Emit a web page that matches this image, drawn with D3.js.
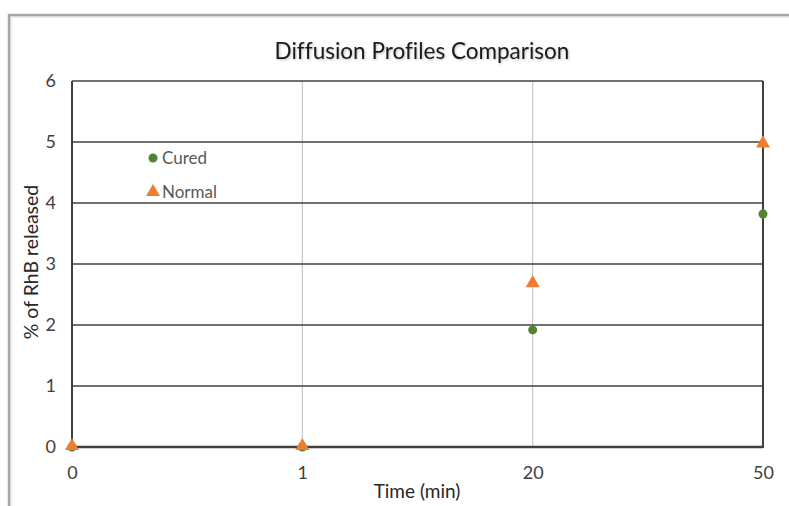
<!DOCTYPE html>
<html>
<head>
<meta charset="utf-8">
<script src="https://cdn.jsdelivr.net/npm/d3@7"></script>
<style>
  html, body { margin: 0; padding: 0; background: #fff; }
  svg { display: block; font-family: Lato, "Open Sans", sans-serif; font-variant-ligatures: none; }
</style>
</head>
<body>
<svg id="chart" width="789" height="506"></svg>
<script>
// Sampling times (min), shown as evenly spaced categories
const times = ["0", "1", "20", "50"];
// % of RhB released
const cured = [0, 0, 1.92, 3.82];
const normal = [0, 0, 2.67, 4.96];
const yTicks = [0, 1, 2, 3, 4, 5, 6];
const seriesNames = ["Cured", "Normal"];

const svg = d3.select("#chart");
const W = 789, H = 506;
const plot = { left: 72, right: 763, top: 81, bottom: 447 };

// Frame around the chart area
svg.append("path")
  .attr("d", `M9.5,${H} V15.5 H${W}`)
  .attr("fill", "none")
  .attr("stroke", "#d9d9d9")
  .attr("stroke-width", 4);
svg.append("path")
  .attr("d", `M9,${H} V15 H${W}`)
  .attr("fill", "none")
  .attr("stroke", "#a6a6a6")
  .attr("stroke-width", 2);

const x = d3.scalePoint().domain(times).range([plot.left, plot.right]);
const y = d3.scaleLinear().domain([0, 6]).range([plot.bottom, plot.top]);

// Vertical gridlines
svg.append("g")
  .selectAll("line")
  .data(times.slice(1, -1))
  .join("line")
  .attr("x1", d => x(d)).attr("x2", d => x(d))
  .attr("y1", plot.top).attr("y2", plot.bottom)
  .attr("stroke", "#bfbfbf").attr("stroke-width", 1);

// Horizontal gridlines
svg.append("g")
  .selectAll("line")
  .data(yTicks)
  .join("line")
  .attr("x1", plot.left).attr("x2", plot.right)
  .attr("y1", d => y(d)).attr("y2", d => y(d))
  .attr("stroke", "#404040").attr("stroke-width", d => d === 0 ? 2.5 : 1.5);

// Plot border sides
svg.append("line")
  .attr("x1", plot.left).attr("x2", plot.left)
  .attr("y1", plot.top).attr("y2", plot.bottom)
  .attr("stroke", "#404040").attr("stroke-width", 2);
svg.append("line")
  .attr("x1", plot.right).attr("x2", plot.right)
  .attr("y1", plot.top).attr("y2", plot.bottom + 1)
  .attr("stroke", "#404040").attr("stroke-width", 2);

// Tick labels via d3 axes
const yAxis = d3.axisLeft(y).tickValues(yTicks).tickSize(0).tickPadding(0).tickFormat(d3.format("d"));
svg.append("g")
  .attr("transform", `translate(${plot.left - 16},0)`)
  .call(yAxis)
  .call(g => g.select(".domain").remove())
  .call(g => g.selectAll("text")
    .attr("font-family", "Lato, 'Open Sans', sans-serif")
    .attr("font-size", 18).attr("fill", "#404040"));

const xAxis = d3.axisBottom(x).tickSize(0).tickPadding(0);
svg.append("g")
  .attr("transform", `translate(0,${plot.bottom + 19})`)
  .call(xAxis)
  .call(g => g.select(".domain").remove())
  .call(g => g.selectAll("text")
    .attr("font-family", "Lato, 'Open Sans', sans-serif")
    .attr("font-size", 18).attr("fill", "#404040"));

// Title and axis titles
svg.append("text")
  .attr("x", 422).attr("y", 59)
  .attr("text-anchor", "middle")
  .attr("font-size", 22.5).attr("fill", "#1a1a1a")
  .style("filter", "drop-shadow(1px 1px 1px rgba(0,0,0,0.25))")
  .text("Diffusion Profiles Comparison");

svg.append("text")
  .attr("x", 417).attr("y", 498)
  .attr("text-anchor", "middle")
  .attr("font-size", 19).attr("fill", "#262626")
  .text("Time (min)");

svg.append("text")
  .attr("transform", `translate(38,262) rotate(-90)`)
  .attr("text-anchor", "middle")
  .attr("font-size", 19.5).attr("fill", "#262626")
  .text("% of RhB released");

const green = "#548235", orange = "#ed7d31";
const tri = d3.symbol().type(d3.symbolTriangle).size(85);

// Cured series (circles)
svg.append("g")
  .selectAll("circle")
  .data(cured)
  .join("circle")
  .attr("cx", (d, i) => x(times[i]))
  .attr("cy", d => y(d))
  .attr("r", 4.5)
  .attr("fill", green);

// Normal series (triangles)
svg.append("g")
  .selectAll("path")
  .data(normal)
  .join("path")
  .attr("d", tri)
  .attr("transform", (d, i) => `translate(${x(times[i])},${y(d) - 1})`)
  .attr("fill", orange);

// Legend
const legend = svg.append("g").attr("font-size", 17).attr("fill", "#595959");
legend.append("circle").attr("cx", 153).attr("cy", 158).attr("r", 4.5).attr("fill", green);
legend.append("text").attr("x", 162).attr("y", 164).text(seriesNames[0]);
legend.append("path").attr("d", tri).attr("transform", "translate(153,192)").attr("fill", orange);
legend.append("text").attr("x", 162).attr("y", 198).text(seriesNames[1]);
</script>
</body>
</html>
